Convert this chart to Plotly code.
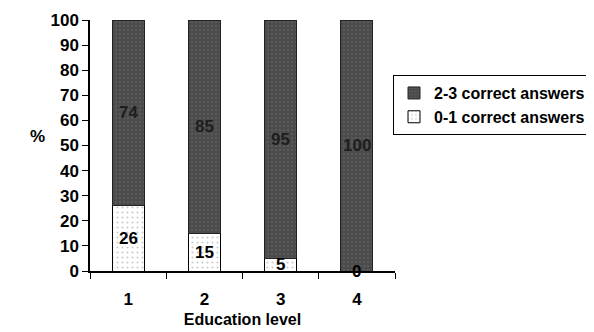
import plotly.graph_objects as go

categories = ["1", "2", "3", "4"]
low_scores = [26, 15, 5, 0]      # 0-1 correct answers
high_scores = [74, 85, 95, 100]  # 2-3 correct answers
y_ticks = [0, 10, 20, 30, 40, 50, 60, 70, 80, 90, 100]

FONT = "Liberation Sans, Arial, sans-serif"

fig = go.Figure()
fig.add_trace(go.Bar(
    x=categories, y=low_scores, name="<b>0-1 correct answers</b>",
    marker=dict(color="white", line=dict(color="black", width=1),
                pattern=dict(shape=".", fgcolor="#9a9a9a", bgcolor="white", size=5, solidity=0.15)),
    width=0.42,
))
fig.add_trace(go.Bar(
    x=categories, y=high_scores, name="<b>2-3 correct answers</b>",
    marker=dict(color="#4f4f4f", line=dict(color="#222", width=1),
                pattern=dict(shape=".", fgcolor="#6a6a6a", bgcolor="#4a4a4a", size=4, solidity=0.3)),
    width=0.42,
))

for i, (lo, hi) in enumerate(zip(low_scores, high_scores)):
    fig.add_annotation(x=i, y=lo / 2, text=f"<b>{lo}</b>", showarrow=False,
                       font=dict(family=FONT, size=17, color="black"), xref="x", yref="y")
    fig.add_annotation(x=i, y=lo + hi / 2, text=f"<b>{hi}</b>", showarrow=False,
                       font=dict(family=FONT, size=17, color="#1e1e1e"), xref="x", yref="y")
fig.add_annotation(x=-0.203, y=0.534, xref="paper", yref="paper", text="<b>%</b>", showarrow=False,
                   font=dict(family=FONT, size=17, color="black"))

fig.update_layout(
    width=586, height=324,
    margin=dict(l=82, r=199, t=12, b=61, autoexpand=False),
    barmode="stack",
    paper_bgcolor="white", plot_bgcolor="white",
    font=dict(family=FONT, size=17, color="black"),
    showlegend=True,
    legend=dict(xref="container", yref="container", x=0.657, xanchor="left",
                y=0.793, yanchor="top", traceorder="reversed",
                bordercolor="black", borderwidth=1, bgcolor="white",
                font=dict(family=FONT, size=16, color="black"),
                itemwidth=30, tracegroupgap=0),
)
fig.update_yaxes(range=[0, 100], tickvals=y_ticks, ticktext=[f"<b>{v}</b>" for v in y_ticks],
                 showline=True, linecolor="black", linewidth=1.5, ticks="outside", ticklen=6,
                 tickcolor="black", showgrid=False, zeroline=False, automargin=False)
fig.update_xaxes(type="category", range=[-0.5, 3.5],
                 tickvals=categories, ticktext=[f"<b>{c}</b>" for c in categories],
                 showline=True, linecolor="black", linewidth=1.5, ticks="outside", ticklen=6,
                 tickcolor="black", tickson="boundaries", showgrid=False, ticklabelstandoff=12,
                 automargin=False,
                 title=dict(text="<b>Education level</b>", font=dict(family=FONT, size=16), standoff=6))

fig.write_html("out.html")
